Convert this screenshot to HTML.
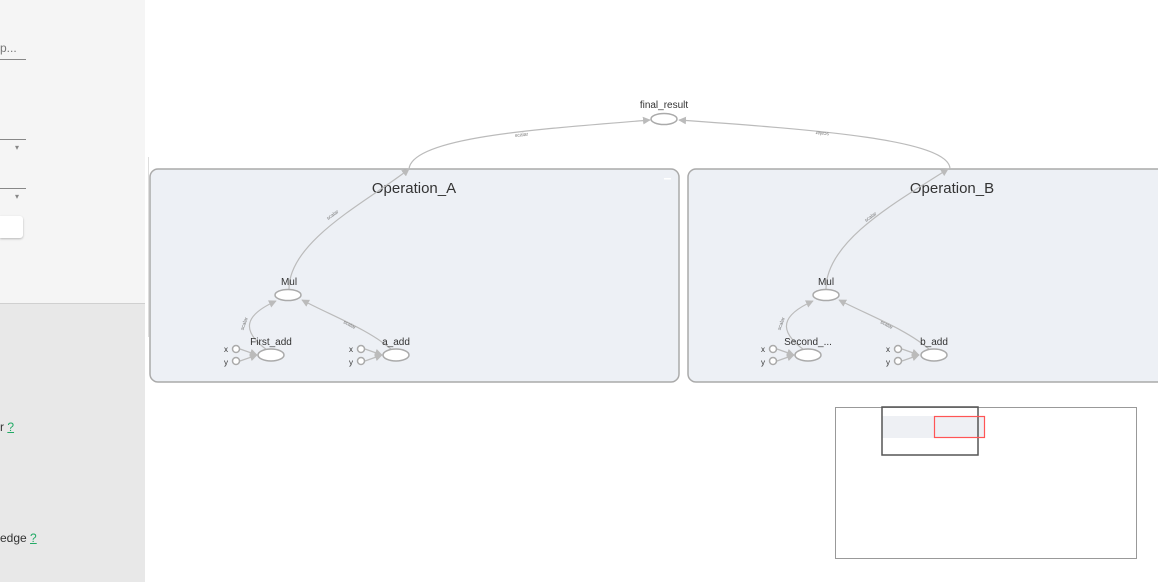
<!DOCTYPE html>
<html><head><style>
body{margin:0;width:1158px;height:581px;overflow:hidden;font-family:"Liberation Sans",sans-serif;background:#fff;position:relative}
.sb1{position:absolute;left:0;top:0;width:145px;height:303px;background:#f5f5f5}
.sb2{position:absolute;left:0;top:303px;width:145px;height:278px;background:#e8e8e8;border-top:1px solid #d0d0d0}
</style></head><body>
<div class="sb1">
<div style="position:absolute;left:0;top:41px;font-size:12px;color:#777">p...</div>
<div style="position:absolute;left:0;top:59px;width:26px;border-top:1px solid #888"></div>
<div style="position:absolute;left:0;top:139px;width:26px;border-top:1px solid #888"></div>
<div style="position:absolute;left:15px;top:143px;font-size:8px;color:#888">▾</div>
<div style="position:absolute;left:0;top:188px;width:26px;border-top:1px solid #888"></div>
<div style="position:absolute;left:15px;top:192px;font-size:8px;color:#888">▾</div>
<div style="position:absolute;left:0;top:216px;width:23px;height:22px;background:#fff;border-radius:0 3px 3px 0;box-shadow:0 1px 2px rgba(0,0,0,.25)"></div>
</div>
<div class="sb2">
<div style="position:absolute;left:0;top:116px;font-size:12px;color:#333">r <u style="color:#2a6">?</u></div>
<div style="position:absolute;left:0;top:227px;font-size:12px;color:#333">edge <u style="color:#2a6">?</u></div>
</div>
<div style="position:absolute;left:148px;top:157px;width:1px;height:180px;background:#ddd"></div>
<svg width="1158" height="581" style="position:absolute;left:0;top:0" font-family="Liberation Sans, sans-serif">
<defs><marker id="a" viewBox="0 0 10 10" refX="9" refY="5" markerWidth="6.5" markerHeight="6.5" orient="auto"><path d="M0,0L10,5L0,10z" fill="#bbb"/></marker></defs>
<rect x="150" y="169" width="529" height="213" rx="8" fill="#edf0f5" stroke="#aaa" stroke-width="1.5"/>
<rect x="688" y="169" width="480" height="213" rx="8" fill="#edf0f5" stroke="#aaa" stroke-width="1.5"/>
<rect x="664" y="178" width="7" height="1.5" fill="#fff"/>
<text x="414" y="193" font-size="15" fill="#333" text-anchor="middle">Operation_A</text>
<text x="952" y="193" font-size="15" fill="#333" text-anchor="middle">Operation_B</text>
<g fill="none" stroke="#bbb" stroke-width="1.2">
<path d="M289,289 C289,240 370,200 409,169" marker-end="url(#a)"/>
<path d="M409,169 C412,135 560,128 650,120" marker-end="url(#a)"/>
<path d="M826,289 C826,240 900,200 948,169" marker-end="url(#a)"/>
<path d="M950,169 C950,140 820,130 679,120" marker-end="url(#a)"/>
<path d="M267,350 C240,330 245,315 276,301" marker-end="url(#a)"/>
<path d="M392,350 C370,330 330,315 302,300" marker-end="url(#a)"/>
<path d="M804,350 C777,330 782,315 813,301" marker-end="url(#a)"/>
<path d="M930,350 C908,330 868,315 839,300" marker-end="url(#a)"/>
<path d="M240,349 L257,355" marker-end="url(#a)"/><path d="M240,361 L257,355" marker-end="url(#a)"/>
<path d="M365,349 L382,355" marker-end="url(#a)"/><path d="M365,361 L382,355" marker-end="url(#a)"/>
<path d="M777,349 L794,355" marker-end="url(#a)"/><path d="M777,361 L794,355" marker-end="url(#a)"/>
<path d="M902,349 L919,355" marker-end="url(#a)"/><path d="M902,361 L919,355" marker-end="url(#a)"/>
</g>
<g fill="#fff" stroke="#aaa" stroke-width="1.5">
<ellipse cx="664" cy="119" rx="13" ry="5.5"/>
<ellipse cx="288" cy="295" rx="13" ry="5.5"/>
<ellipse cx="826" cy="295" rx="13" ry="5.5"/>
<ellipse cx="271" cy="355" rx="13" ry="6"/>
<ellipse cx="396" cy="355" rx="13" ry="6"/>
<ellipse cx="808" cy="355" rx="13" ry="6"/>
<ellipse cx="934" cy="355" rx="13" ry="6"/>
<circle cx="236" cy="349" r="3.5"/><circle cx="236" cy="361" r="3.5"/>
<circle cx="361" cy="349" r="3.5"/><circle cx="361" cy="361" r="3.5"/>
<circle cx="773" cy="349" r="3.5"/><circle cx="773" cy="361" r="3.5"/>
<circle cx="898" cy="349" r="3.5"/><circle cx="898" cy="361" r="3.5"/>
</g>
<g font-size="10" fill="#333" text-anchor="middle">
<text x="664" y="108">final_result</text>
<text x="289" y="285">Mul</text><text x="826" y="285">Mul</text>
<text x="271" y="345">First_add</text><text x="396" y="345">a_add</text>
<text x="808" y="345">Second_...</text><text x="934" y="345">b_add</text>
</g>
<g font-size="8" fill="#333">
<text x="224" y="352">x</text><text x="224" y="365">y</text>
<text x="349" y="352">x</text><text x="349" y="365">y</text>
<text x="761" y="352">x</text><text x="761" y="365">y</text>
<text x="886" y="352">x</text><text x="886" y="365">y</text>
</g>
<g font-size="5" fill="#777">
<text x="515" y="137" transform="rotate(-6 515 137)">scalar</text>
<text x="815" y="134" transform="rotate(186 822 133)">scalar</text>
<text x="328" y="220" transform="rotate(-35 328 220)">scalar</text>
<text x="866" y="222" transform="rotate(-35 866 222)">scalar</text>
<text x="236" y="330" transform="rotate(-70 240 325)">scalar</text>
<text x="343" y="323" transform="rotate(28 343 323)">scalar</text>
<text x="773" y="330" transform="rotate(-70 777 325)">scalar</text>
<text x="880" y="323" transform="rotate(28 880 323)">scalar</text>
</g>
<rect x="835.5" y="407.5" width="301" height="151" fill="#fff" stroke="#999"/>
<rect x="882" y="416" width="103" height="22" fill="#eef0f4"/>
<rect x="882" y="407" width="96" height="48" fill="none" stroke="#555" stroke-width="1.5"/>
<rect x="934.5" y="416.5" width="50" height="21" fill="none" stroke="#f55" stroke-width="1.2"/>
</svg>
</body></html>
